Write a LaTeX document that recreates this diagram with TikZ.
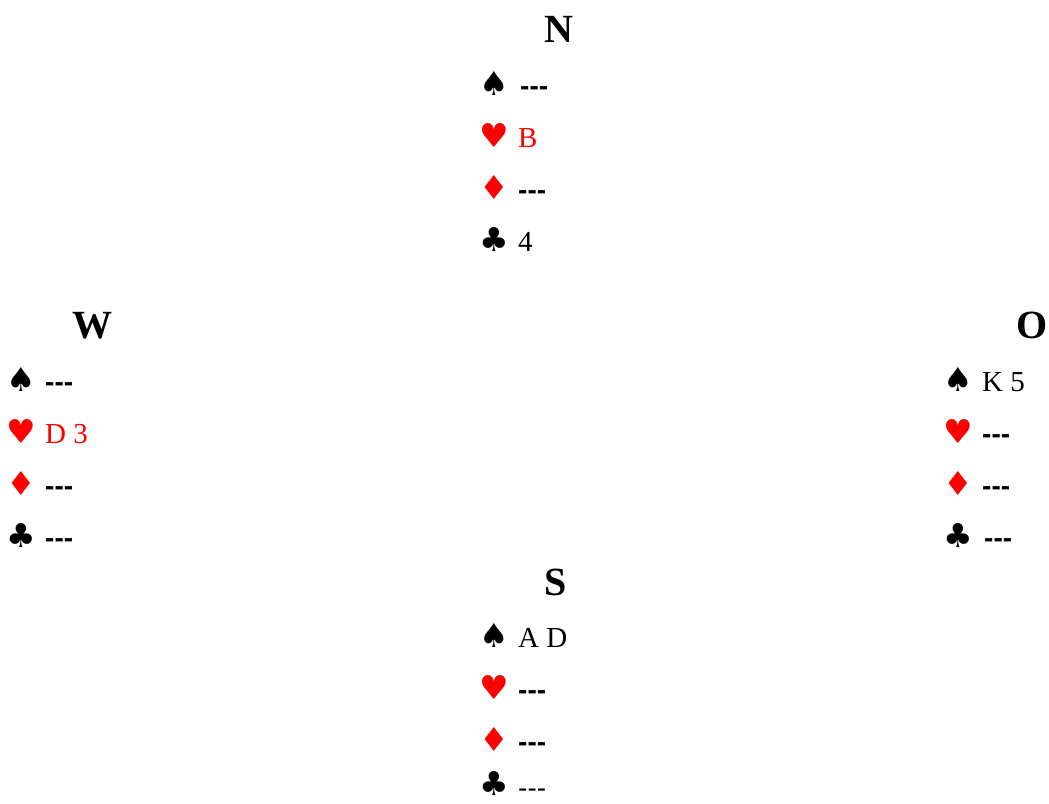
\documentclass[tikz,border=0pt]{standalone}
\usepackage{fontspec}
\setmainfont{Liberation Serif}
\newfontfamily\suitfont{DejaVu Sans}
\newfontfamily\dashfont{Liberation Sans}
\definecolor{cardred}{RGB}{255,0,0}
\begin{document}
\begin{tikzpicture}[x=1pt,y=-1pt,
  head/.style={font=\fontsize{40}{44}\selectfont\bfseries, inner sep=0pt, anchor=base},
  suit/.style={font=\suitfont\fontsize{33}{35}\selectfont, inner sep=0pt, text depth=0pt, anchor=base west},
  cards/.style={font=\fontsize{29}{31}\selectfont, inner sep=0pt, text depth=0pt, anchor=base west},
  void/.style={font=\dashfont\bfseries\fontsize{28}{30}\selectfont, inner sep=0pt, text depth=0pt, anchor=base west},
  lvoid/.style={font=\dashfont\fontsize{28}{30}\selectfont, inner sep=0pt, text depth=0pt, anchor=base west},
  rd/.style={text=cardred}]
\useasboundingbox (0,0) rectangle (1049,803);
% North
\node[head] (nh) at (559,42) {N};
\node[suit] (ns) at (479,95) {♠};
\node[void] (nst) at (520,95) {-{}-{}-};
\node[suit,rd] (nhe) at (479,147) {♥};
\node[cards,rd] (nhet) at (518,147) {B};
\node[suit,rd] (nd) at (479,199) {♦};
\node[void] (ndt) at (518,199) {-{}-{}-};
\node[suit] (nc) at (479,251) {♣};
\node[cards] (nct) at (518,251) {4};
% West
\node[head] (wh) at (92,338) {W};
\node[suit] (ws) at (6,391) {♠};
\node[void] (wst) at (45,391) {-{}-{}-};
\node[suit,rd] (whe) at (6,443) {♥};
\node[cards,rd] (whet) at (45,443) {D 3};
\node[suit,rd] (wd) at (6,495) {♦};
\node[void] (wdt) at (45,495) {-{}-{}-};
\node[suit] (wc) at (6,547) {♣};
\node[void] (wct) at (45,547) {-{}-{}-};
% East (O)
\node[head] (oh) at (1032,338) {O};
\node[suit] (os) at (943,391) {♠};
\node[cards] (ost) at (982,391) {K 5};
\node[suit,rd] (ohe) at (943,443) {♥};
\node[void] (ohet) at (982,443) {-{}-{}-};
\node[suit,rd] (od) at (943,495) {♦};
\node[void] (odt) at (982,495) {-{}-{}-};
\node[suit] (oc) at (943,547) {♣};
\node[void] (oct) at (984,547) {-{}-{}-};
% South
\node[head] (sh) at (556,595) {S};
\node[suit] (ss) at (479,647) {♠};
\node[cards] (sst) at (518,647) {A D};
\node[suit,rd] (she) at (479,699) {♥};
\node[void] (shet) at (518,699) {-{}-{}-};
\node[suit,rd] (sd) at (479,751) {♦};
\node[void] (sdt) at (518,751) {-{}-{}-};
\node[suit] (sc) at (479,795) {♣};
\node[lvoid] (sct) at (518,797) {-{}-{}-};
\end{tikzpicture}
\end{document}
